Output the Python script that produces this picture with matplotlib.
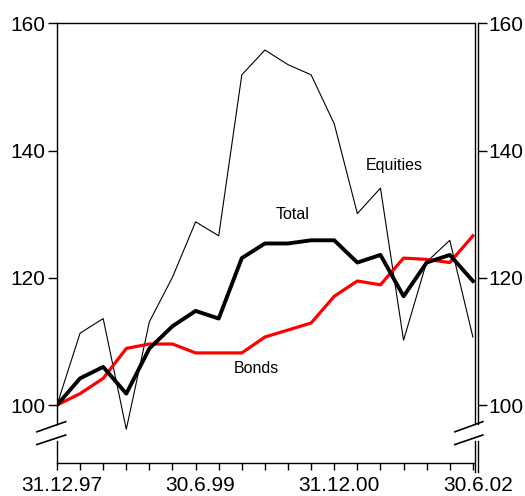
import matplotlib
matplotlib.use("Agg")
import matplotlib.pyplot as plt
from matplotlib.lines import Line2D
from matplotlib.transforms import ScaledTranslation, blended_transform_factory

plt.rcParams["font.family"] = ["Liberation Sans", "DejaVu Sans"]

# quarter-end dates, 31.12.97 .. 30.6.02
QUARTERS = list(range(19))
TICK_LABELS = ["31.12.97", "", "", "", "", "", "30.6.99", "", "", "", "", "",
               "31.12.00", "", "", "", "", "", "30.6.02"]

EQUITIES = [100, 111.3, 113.6, 96.2, 113.1, 120.1, 128.8, 126.6, 151.9, 155.8,
            153.5, 151.9, 144.2, 130.1, 134.1, 110.2, 122.5, 125.9, 110.7]
TOTAL = [100, 104.2, 106.0, 101.8, 108.9, 112.4, 114.8, 113.6, 123.1, 125.4,
         125.4, 125.9, 125.9, 122.4, 123.6, 117.1, 122.4, 123.6, 119.5]
BONDS = [100, 101.8, 104.2, 108.9, 109.6, 109.6, 108.2, 108.2, 108.2, 110.7,
         111.8, 112.9, 117.1, 119.5, 118.9, 123.1, 122.9, 122.4, 126.6]

Y_TICKS = [100, 120, 140, 160]
Y_MIN, Y_MAX = 90.9, 160

fig = plt.figure(figsize=(5.25, 4.96), dpi=100)
ax = fig.add_axes([56.5 / 525, 33 / 496, 418 / 525, 439.7 / 496])

ax.plot(QUARTERS, EQUITIES, color="black", linewidth=0.8, zorder=2)
ax.plot(QUARTERS, BONDS, color="#ff0000", linewidth=2.3, zorder=3)
ax.plot(QUARTERS, TOTAL, color="black", linewidth=2.8, zorder=4)

ax.text(14.6, 137.7, "Equities", fontsize=11.5, ha="center", va="center")
ax.text(10.2, 130.0, "Total", fontsize=11.5, ha="center", va="center")
ax.text(8.65, 105.7, "Bonds", fontsize=11.5, ha="center", va="center")

ax.set_xlim(-0.02, 18.07)
ax.set_ylim(Y_MIN, Y_MAX)
ax.set_xticks(QUARTERS)
ax.set_xticklabels(TICK_LABELS)
ax.set_yticks(Y_TICKS)

ax.tick_params(axis="x", direction="out", length=5.3, width=1, pad=4, labelsize=15)
ax.tick_params(axis="y", direction="out", length=6.5, width=1, pad=1.5, labelsize=15,
               right=True, labelright=True)
for label in ax.get_xticklabels():
    label.set_transform(label.get_transform() + ScaledTranslation(5 / 100, 0, fig.dpi_scale_trans))

# spines: left one broken, right one doubled and broken
for side in ("left", "right", "top", "bottom"):
    ax.spines[side].set_linewidth(1)
    ax.spines[side].set_color("black")
ax.spines["left"].set_bounds(97.0, Y_MAX)
ax.spines["right"].set_position(("outward", 2.2))
ax.spines["right"].set_bounds(97.0, Y_MAX)

blend = blended_transform_factory(ax.transAxes, ax.transData)
ax.add_line(Line2D([0, 0], [Y_MIN, 94.4], color="black", lw=1, transform=blend, clip_on=False))
ax.add_line(Line2D([1, 1], [Y_MIN - 1.4, 94.4], color="black", lw=1, transform=blend, clip_on=False))
ax.add_line(Line2D([1, 1], [97.0, Y_MAX], color="black", lw=1, transform=blend, clip_on=False))
outer_x = 1 + 3 / 418
ax.add_line(Line2D([outer_x, outer_x], [Y_MIN - 1.4, 94.4], color="black", lw=1,
                   transform=blend, clip_on=False))

# axis break marks
for x0, x1 in ((-0.047, 0.022), (0.953, 1.02)):
    ax.add_line(Line2D([x0, x1], [95.8, 97.4], color="black", lw=1.2, transform=blend, clip_on=False))
    ax.add_line(Line2D([x0, x1], [93.8, 95.3], color="black", lw=1.2, transform=blend, clip_on=False))

fig.savefig("out.png", dpi=100)
